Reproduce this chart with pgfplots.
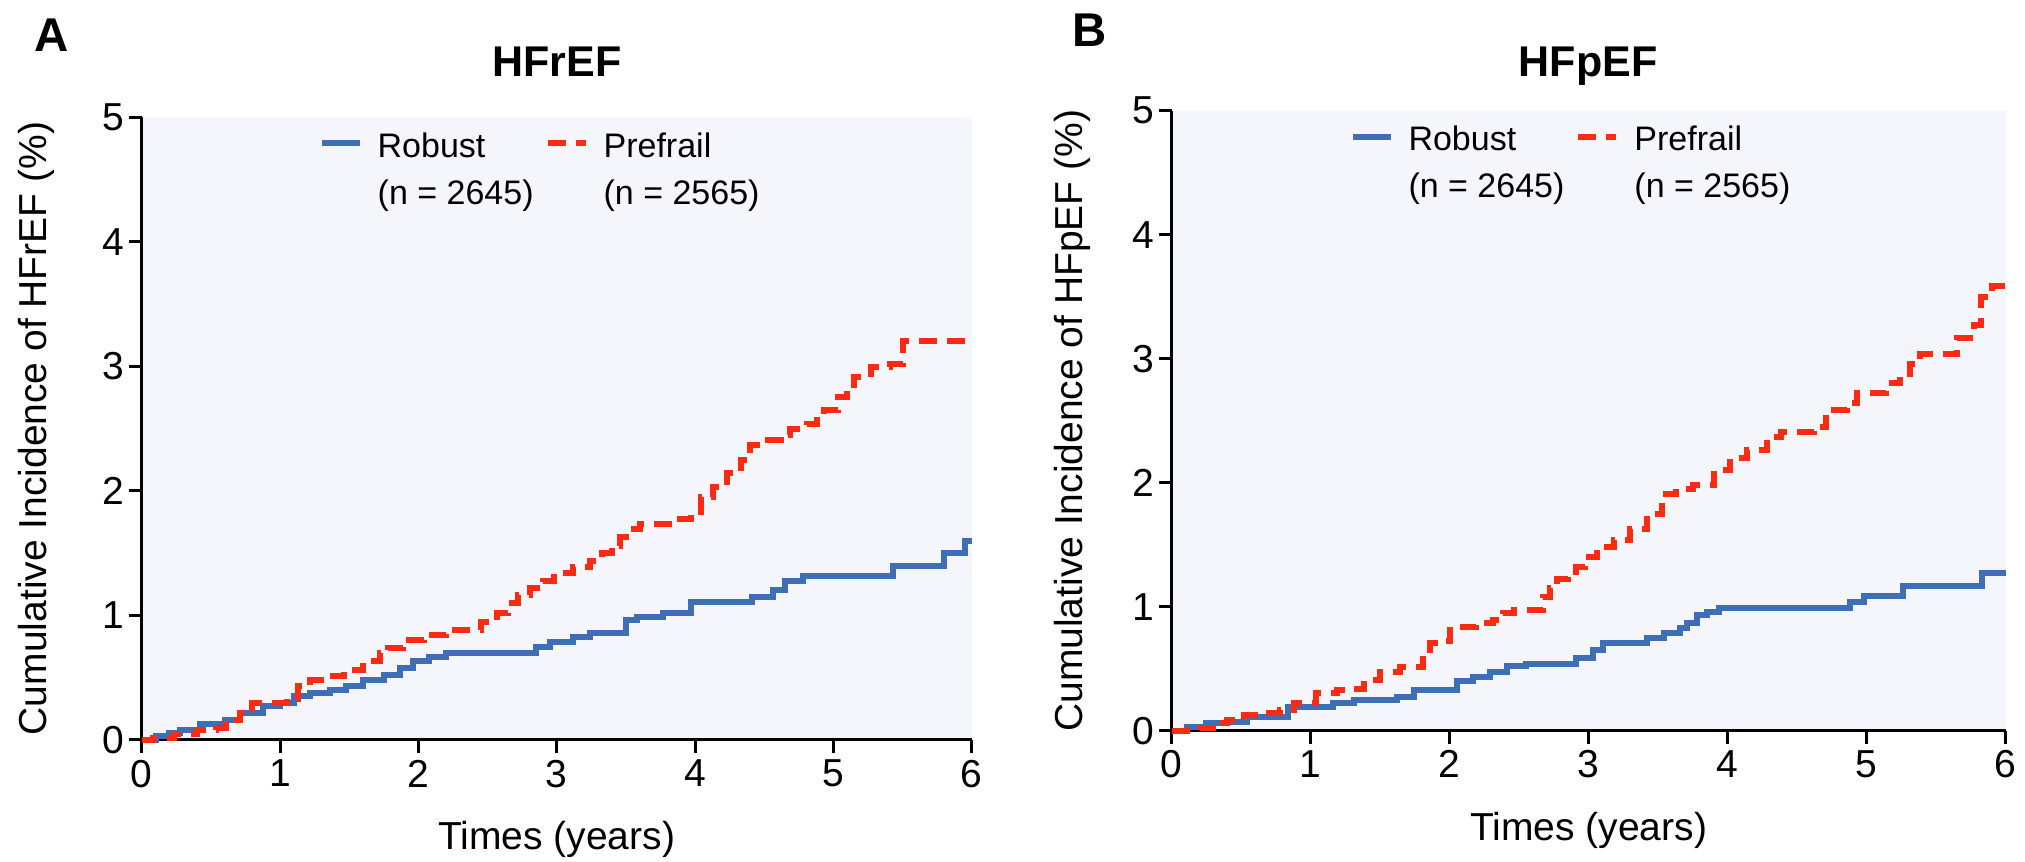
\documentclass[border=0pt]{standalone}
\usepackage{fontspec}
\setmainfont{Liberation Sans}
\usepackage{pgfplots}
\pgfplotsset{compat=1.18}
\definecolor{cblue}{RGB}{62,110,182}
\definecolor{cred}{RGB}{255,42,18}
\definecolor{cbg}{RGB}{245,246,252}

\pgfplotsset{
 kmstyle/.style={
  scale only axis,
  xmin=0, xmax=6, ymin=0, ymax=5,
  xtick={0,...,6}, ytick={0,...,5},
  axis lines=left,
  axis line style={-, line width=1.5pt, black},
  tick style={line width=1.5pt, black},
  tick align=outside,
  major tick length=6.5pt,
  tick label style={font=\fontsize{19.5}{22}\selectfont},
  /pgf/number format/assume math mode=true,
  yticklabel style={xshift=1.5pt},
  label style={font=\fontsize{19.5}{23}\selectfont},
  axis background/.style={fill=cbg},
  clip=false,
  legend columns=2,
  legend cell align=left,
  legend style={at={(axis description cs:0.2,0.975)}, anchor=north west,
     draw=none, fill=none, font=\fontsize{17}{23.5}\selectfont,
     cells={align=left}, inner sep=0pt, outer sep=0pt,
     nodes={inner sep=0pt, outer sep=0pt},
     column sep=0pt},
  legend image code/.code={
     \path[draw=none, fill=none] (-7pt,-15pt) rectangle (28pt,15pt);
     \draw[#1] (0pt,13.5pt) -- (19pt,13.5pt);},
 },
 rob/.style={cblue, line width=3pt, const plot},
 pre/.style={cred, line width=3pt, const plot, dash pattern=on 9pt off 5pt},
}

\begin{document}
\begin{tikzpicture}
\path[use as bounding box] (0,0) rectangle (1012.5pt,431pt);

\begin{axis}[kmstyle, at={(70.85pt,61pt)}, anchor=south west,
  width=415pt, height=311.5pt,
  xlabel={Times (years)},
  ylabel={Cumulative Incidence of HFrEF (\%)},
  xlabel style={at={([yshift=-55pt]axis description cs:0.5,0)}, anchor=base},
  ylabel style={at={([xshift=-47.5pt]axis description cs:0,0.5)}, anchor=base},
]
\addplot[rob] coordinates {(0,0) (0.1,0.03) (0.2,0.06) (0.28,0.08) (0.42,0.13) (0.6,0.16) (0.71,0.22) (0.88,0.27) (1.0,0.30) (1.1,0.35) (1.22,0.38) (1.36,0.40) (1.48,0.43) (1.6,0.48) (1.75,0.52) (1.87,0.58) (1.96,0.63) (2.08,0.67) (2.2,0.70) (2.85,0.75) (2.95,0.79) (3.12,0.83) (3.24,0.86) (3.5,0.96) (3.58,0.99) (3.77,1.02) (3.97,1.11) (4.41,1.15) (4.56,1.20) (4.65,1.28) (4.78,1.32) (5.43,1.40) (5.8,1.50) (5.95,1.60) (6.0,1.60)};
\addlegendentry{Robust\\(n = 2645)}
\addplot[pre] coordinates {(0,0) (0.08,0.02) (0.23,0.05) (0.4,0.08) (0.54,0.10) (0.61,0.16) (0.71,0.22) (0.8,0.30) (1.05,0.33) (1.13,0.43) (1.22,0.48) (1.36,0.51) (1.46,0.56) (1.6,0.63) (1.72,0.70) (1.78,0.74) (1.89,0.80) (2.04,0.84) (2.2,0.88) (2.45,0.95) (2.57,1.02) (2.65,1.10) (2.72,1.16) (2.81,1.22) (2.9,1.28) (2.98,1.34) (3.12,1.39) (3.24,1.44) (3.33,1.50) (3.4,1.56) (3.46,1.63) (3.52,1.69) (3.6,1.73) (3.87,1.77) (3.97,1.83) (4.04,1.95) (4.13,2.03) (4.23,2.14) (4.33,2.25) (4.4,2.37) (4.5,2.41) (4.62,2.45) (4.69,2.50) (4.81,2.54) (4.88,2.60) (4.93,2.65) (5.03,2.75) (5.1,2.85) (5.15,2.91) (5.27,2.99) (5.41,3.02) (5.5,3.20) (6.0,3.20)};
\addlegendentry{Prefrail\\(n = 2565)}
\end{axis}

\begin{axis}[kmstyle, at={(585.85pt,65.65pt)}, anchor=south west,
  width=417pt, height=310pt,
  xlabel={Times (years)},
  ylabel={Cumulative Incidence of HFpEF (\%)},
  xlabel style={at={([yshift=-55pt]axis description cs:0.5,0)}, anchor=base},
  ylabel style={at={([xshift=-44.5pt]axis description cs:0,0.5)}, anchor=base},
]
\addplot[rob] coordinates {(0,0) (0.11,0.03) (0.25,0.06) (0.4,0.07) (0.54,0.11) (0.84,0.19) (1.16,0.22) (1.31,0.25) (1.62,0.27) (1.74,0.33) (2.05,0.40) (2.17,0.43) (2.29,0.47) (2.41,0.52) (2.55,0.54) (2.91,0.59) (3.03,0.65) (3.10,0.71) (3.42,0.75) (3.54,0.79) (3.66,0.83) (3.71,0.87) (3.78,0.93) (3.85,0.96) (3.94,0.99) (4.88,1.04) (4.98,1.09) (5.26,1.17) (5.83,1.27) (6.0,1.27)};
\addlegendentry{Robust\\(n = 2645)}
\addplot[pre] coordinates {(0,0) (0.2,0.02) (0.3,0.06) (0.4,0.09) (0.52,0.13) (0.64,0.14) (0.78,0.17) (0.88,0.22) (1.04,0.30) (1.19,0.33) (1.28,0.34) (1.38,0.41) (1.5,0.47) (1.64,0.51) (1.81,0.61) (1.86,0.71) (1.93,0.72) (2.0,0.81) (2.07,0.84) (2.19,0.87) (2.31,0.89) (2.38,0.95) (2.46,0.97) (2.67,1.08) (2.72,1.15) (2.77,1.22) (2.85,1.28) (2.91,1.32) (2.97,1.40) (3.06,1.48) (3.18,1.54) (3.30,1.63) (3.42,1.75) (3.53,1.91) (3.63,1.95) (3.75,1.98) (3.90,2.10) (4.02,2.20) (4.14,2.26) (4.28,2.37) (4.38,2.41) (4.62,2.45) (4.71,2.59) (4.86,2.64) (4.93,2.72) (5.14,2.80) (5.24,2.88) (5.31,2.96) (5.38,3.04) (5.65,3.17) (5.77,3.27) (5.82,3.50) (5.90,3.59) (6.0,3.59)};
\addlegendentry{Prefrail\\(n = 2565)}
\end{axis}

\node[anchor=base west, font=\bfseries\fontsize{23.7}{28}\selectfont] at (13.5pt,405pt) {A};
\node[anchor=base west, font=\bfseries\fontsize{23.7}{28}\selectfont] at (532.5pt,407.5pt) {B};
\node[anchor=base, font=\bfseries\fontsize{21.5}{26}\selectfont] at (278.4pt,392.5pt) {HFrEF};
\node[anchor=base, font=\bfseries\fontsize{21.5}{26}\selectfont] at (794pt,392.5pt) {HFpEF};
\end{tikzpicture}
\end{document}
